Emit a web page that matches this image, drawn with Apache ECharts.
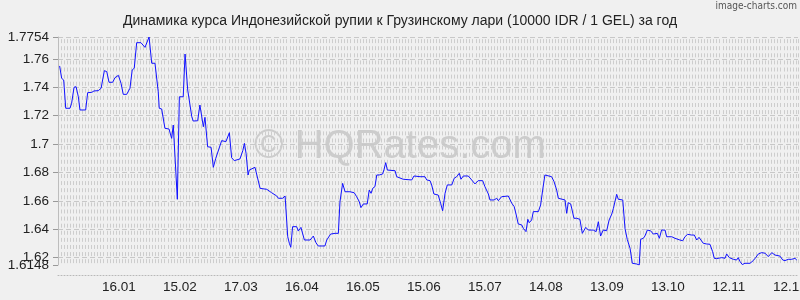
<!DOCTYPE html>
<html>
<head>
<meta charset="utf-8">
<script src="https://cdn.jsdelivr.net/npm/echarts@6/dist/echarts.min.js"></script>
<style>html,body{margin:0;padding:0;background:#f0f0f0;}#c{width:800px;height:300px;}</style>
</head>
<body>
<div id="c"></div>
<script>
// Day offsets (from the first day of the period) and IDR/GEL rates
const dayIndex = [
0.8,1.8,2.8,3.8,5.9,6.7,7.9,8.9,10.0,10.8,13.6,14.6,16.6,17.7,19.8,21.2,22.0,22.8,24.0,25.1,
26.9,28.0,29.7,31.0,32.1,33.8,35.4,36.5,37.5,38.7,40.8,42.8,43.6,44.8,46.1,47.7,49.3,49.8,51.0,52.6,
54.6,55.9,56.7,57.6,58.7,59.7,61.6,62.5,63.8,65.8,66.5,68.7,69.8,70.7,71.5,72.3,73.6,75.3,76.4,77.6,
80.5,82.6,83.5,84.3,85.4,86.7,89.5,90.9,91.7,
92.5,93.5,94.1,96.9,97.7,99.4,100.2,102.7,105.1,107.6,108.4,110.5,111.7,112.5,113.0,113.8,114.5,115.4,117.4,118.2,
119.5,121.2,124.0,125.6,126.9,128.0,131.3,132.2,133.0,134.1,136.3,137.9,138.7,140.0,141.2,143.6,145.7,146.9,148.2,149.0,
150.2,152.1,153.1,154.0,154.8,155.9,156.8,158.0,159.7,160.4,161.2,162.0,165.8,166.6,169.8,174.0,175.1,178.1,180.5,181.4,
183.0,183.8,184.9,187.0,188.2,189.2,190.4,191.5,193.7,194.9,196.1,197.4,198.2,199.4,201.8,203.5,205.1,206.7,208.9,210.0,
211.7,212.5,214.5,215.8,216.6,218.2,221.5,223.2,224.4,225.3,226.4,228.1,228.9,230.2,231.1,231.8,233.0,233.8,236.3,237.4,
238.4,239.5,240.4,242.8,244.0,245.3,246.1,246.9,249.4,250.2,251.0,252.2,253.8,255.1,256.7,257.9,258.7,259.6,260.9,263.3,
264.7,265.8,266.9,268.2,269.9,271.1,
272.4,273.2,274.8,275.6,277.8,278.9,280.0,281.4,282.5,284.7,285.9,286.6,287.9,288.7,289.9,291.5,292.8,293.7,294.8,295.8,
296.9,298.6,299.4,301.9,303.5,305.9,307.3,308.4,309.7,311.7,313.0,314.2,315.3,317.4,319.1,320.7,322.0,322.8,324.0,326.5,
328.1,328.9,330.2,332.2,333.8,334.6,335.5,336.6,337.9,340.4,342.0,343.3,344.5,346.1,347.8,349.4,351.1,352.7,355.1,356.5,
357.6,359.2,360.9,362.5,363.4
];
const rate = [
1.7550,1.7463,1.7451,1.7252,1.7252,1.7287,1.7400,1.7404,1.7333,1.7240,1.7240,1.7362,1.7364,1.7374,1.7376,1.7393,1.7397,1.7517,1.7510,1.7435,
1.7435,1.7467,1.7484,1.7428,1.7350,1.7350,1.7393,1.7522,1.7534,1.7714,1.7714,1.7681,1.7686,1.7754,1.7569,1.7569,1.7369,1.7252,1.7247,1.7111,
1.7106,1.7040,1.7134,1.7141,1.6611,1.7333,1.7333,1.7634,1.7381,1.7193,1.7162,1.7164,1.7275,1.7268,1.7122,1.7188,1.6981,1.6977,1.6836,1.6899,
1.7024,1.7017,1.7005,1.7080,1.6904,1.6883,1.6895,1.6953,1.7005,
1.6935,1.6782,1.6817,1.6836,1.6847,1.6688,1.6700,1.6681,1.6657,1.6634,1.6618,1.6618,1.6634,1.6629,1.6347,1.6301,1.6273,1.6418,1.6418,1.6387,
1.6413,1.6324,1.6324,1.6352,1.6305,1.6282,1.6282,1.6324,1.6319,1.6366,1.6371,1.6371,1.6594,1.6723,1.6664,1.6664,1.6657,1.6629,1.6594,1.6552,
1.6578,1.6578,1.6676,1.6653,1.6688,1.6700,1.6782,1.6782,1.6789,1.6822,1.6869,1.6817,1.6812,1.6770,1.6752,1.6747,1.6775,1.6770,1.6770,1.6747,
1.6742,1.6712,1.6648,1.6641,1.6583,1.6530,1.6653,1.6712,1.6712,1.6759,1.6770,1.6794,1.6752,1.6775,1.6775,1.6747,1.6719,1.6742,1.6742,1.6700,
1.6648,1.6606,1.6606,1.6618,1.6601,1.6629,1.6634,1.6583,1.6559,1.6507,1.6437,1.6430,1.6406,1.6383,1.6470,1.6446,1.6465,1.6524,1.6524,1.6571,
1.6676,1.6782,1.6775,1.6770,1.6735,1.6676,1.6618,1.6611,1.6606,1.6512,1.6587,1.6578,1.6477,1.6477,1.6470,1.6371,1.6366,1.6413,1.6394,1.6394,
1.6383,1.6453,1.6352,1.6394,1.6389,1.6465,
1.6507,1.6547,1.6646,1.6611,1.6606,1.6406,1.6329,1.6265,1.6160,1.6155,1.6148,1.6329,1.6336,1.6352,1.6394,1.6389,1.6366,1.6359,1.6371,1.6336,
1.6394,1.6394,1.6347,1.6347,1.6336,1.6324,1.6319,1.6347,1.6364,1.6359,1.6359,1.6324,1.6343,1.6301,1.6296,1.6294,1.6242,1.6195,1.6193,1.6200,
1.6195,1.6226,1.6200,1.6188,1.6183,1.6200,1.6172,1.6151,1.6160,1.6160,1.6179,1.6202,1.6226,1.6235,1.6231,1.6207,1.6235,1.6218,1.6211,1.6183,
1.6179,1.6188,1.6188,1.6195,1.6183
];
// x tick labels at days 30, 60, ... 360
const tickLabels = ['16.01','15.02','17.03','16.04','16.05','15.06','15.07','14.08','13.09','13.10','12.11','12.12'];
// y tick values (the minimum is labelled on its own axis so it is not hidden by overlap)
const yTicks = [1.62, 1.64, 1.66, 1.68, 1.7, 1.72, 1.74, 1.76, 1.7754];
const yMinTick = [1.6148];
const yMin = 1.6148, yMax = 1.7754;
const titleText = 'Динамика курса Индонезийской рупии к Грузинскому лари (10000 IDR / 1 GEL) за год';

// layout / style constants
const gTop = 37, gLeft = 58, gH = 228, gRight = 2;
const period = gH * 0.005 / (yMax - yMin);
const markLen = 4;
const firstCenter = (yMax - 1.7725) / (yMax - yMin) * gH;
const dashOff = period - (firstCenter - markLen / 2);

const chart = echarts.init(document.getElementById('c'), null, {renderer: 'canvas'});
const fontFam = "'Liberation Sans', Arial, sans-serif";
const fmt = function (v) { return String(+(+v).toFixed(4)); };
chart.setOption({
  animation: false,
  backgroundColor: '#f0f0f0',
  title: {
    text: titleText, left: 'center', top: 9,
    textStyle: {fontFamily: fontFam, fontSize: 14, fontWeight: 'normal', color: '#222'}
  },
  graphic: [
    {type: 'text', right: 3, top: 1, z: 10,
     style: {text: 'image-charts.com', fontFamily: "'Liberation Sans Narrow','DejaVu Sans Condensed',sans-serif", fontSize: 10, fill: '#555'}},
    {type: 'text', left: 'center', top: 127, z: 0, silent: true,
     style: {text: '© HQRates.com', fontFamily: fontFam, fontSize: 40, fill: 'rgba(110,110,110,0.28)'}}
  ],
  grid: {left: gLeft, top: gTop, height: gH, right: gRight, containLabel: false, outerBoundsMode: 'none'},
  xAxis: [{
    type: 'value', min: 0, max: 364, interval: 30, offset: 10,
    axisLine: {show: true, lineStyle: {color: '#b8b8b8', type: [1, 2], width: 1}},
    axisTick: {show: false},
    splitLine: {show: false},
    axisLabel: {
      margin: 5, fontFamily: fontFam, fontSize: 13.5, color: '#222',
      showMinLabel: true, showMaxLabel: true, hideOverlap: false,
      formatter: function (v) {
        if (v > 0 && v % 30 === 0) return tickLabels[v / 30 - 1] || '';
        return '';
      }
    }
  }, {
    type: 'value', min: 0, max: 364, interval: 1.5, position: 'top',
    axisLine: {show: false}, axisTick: {show: false}, axisLabel: {show: false},
    splitLine: {show: true, lineStyle: {color: '#cdcdcd', width: 1, type: [markLen, period - markLen], dashOffset: dashOff}}
  }],
  yAxis: [{
    type: 'value', min: yMin, max: yMax, position: 'left',
    axisLine: {show: true, lineStyle: {color: '#bdbdbd'}},
    axisTick: {show: true, length: 5, lineStyle: {color: '#999'}, customValues: yTicks},
    axisLabel: {margin: 9, fontFamily: fontFam, fontSize: 13.5, color: '#222', hideOverlap: false,
      customValues: yTicks, formatter: fmt},
    splitLine: {show: true, lineStyle: {color: '#c8c8c8', type: [5, 3], width: 1}}
  }, {
    type: 'value', min: yMin, max: yMax, position: 'left', offset: 0,
    axisLine: {show: false},
    axisTick: {show: true, length: 5, lineStyle: {color: '#999'}, customValues: yMinTick},
    axisLabel: {margin: 9, fontFamily: fontFam, fontSize: 13.5, color: '#222', hideOverlap: false,
      customValues: yMinTick, formatter: fmt},
    splitLine: {show: false}
  }],
  series: [{
    type: 'line', xAxisIndex: 0, yAxisIndex: 0, showSymbol: false, symbol: 'none',
    data: dayIndex.map((d, i) => [d, rate[i]]),
    lineStyle: {color: '#1010ff', width: 1}, z: 5
  }]
});
</script>
</body>
</html>
